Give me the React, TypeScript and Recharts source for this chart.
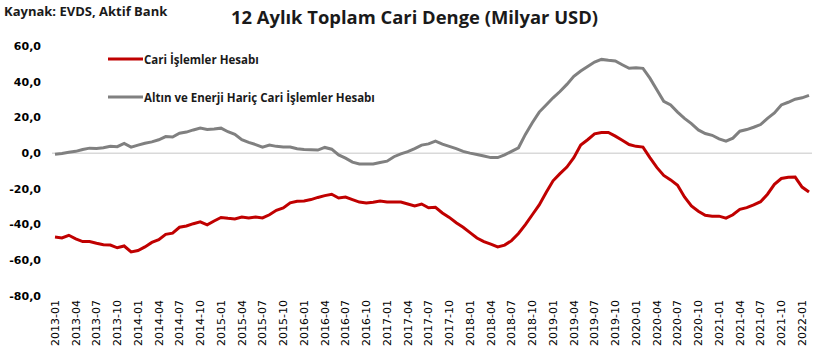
import React from 'react';
import { LineChart, Line, XAxis, YAxis, ReferenceLine, Legend } from 'recharts';

// monthly labels 2013-01 .. 2022-02
const months: string[] = [];
for (let y = 2013; y <= 2022; y++) {
  for (let m = 1; m <= 12; m++) {
    if (y === 2022 && m > 2) break;
    months.push(`${y}-${String(m).padStart(2, '0')}`);
  }
}

const cariIslemler = [
  -47, -47.5, -46, -48, -49.5, -49.5, -50.5, -51.3, -51.5, -53, -52, -55.3,
  -54.5, -52.5, -50, -48.5, -45.5, -44.8, -41.5, -40.8, -39.5, -38.5, -40.2, -38,
  -36, -36.5, -36.9, -35.8, -36.3, -35.8, -36.3, -34.5, -32, -30.7, -27.8, -27,
  -26.8, -26, -24.8, -23.8, -23, -25.1, -24.6, -26, -27.4, -27.9, -27.5, -26.8,
  -27.3, -27.4, -27.4, -28.5, -29.6, -28.5, -30.6, -30.3, -33.5, -36, -39, -41.5,
  -44.5, -47.5, -49.5, -51, -52.5, -51.5, -49, -45, -40, -34.5, -29, -22,
  -15.5, -11.5, -7.8, -2.5, 4.5, 7.5, 10.8, 11.5, 11.6, 9.5, 7.2, 4.8,
  3.8, 3.4, -2.5, -8, -12.5, -15, -18, -24.5, -29.5, -32.5, -34.8, -35.3,
  -35.3, -36.4, -34.5, -31.5, -30.5, -29, -27.2, -23, -17.5, -14.2, -13.5, -13.4,
  -19, -21.8,
];

const altinEnerjiHaric = [
  -0.6, -0.2, 0.5, 1, 2, 2.8, 2.6, 3, 3.9, 3.6, 5.4, 3.4,
  4.5, 5.5, 6.3, 7.5, 9.3, 9, 11.2, 11.8, 13, 14, 13.3, 13.5,
  14, 12, 10.5, 7.5, 6, 4.8, 3.4, 4.5, 3.8, 3.5, 3.4, 2.5,
  2, 1.9, 1.7, 3.2, 2.2, -1, -2.8, -5, -6.1, -6.1, -6.1, -5.2,
  -4.5, -2, -0.4, 0.8, 2.5, 4.5, 5.2, 6.7, 5, 3.8, 2.5, 1,
  0, -0.8, -1.6, -2.5, -2.5, -1, 1, 3, 10.5, 17, 23, 27,
  31, 34.5, 38.5, 43, 46, 48.5, 51, 52.5, 52, 51.6, 49.5, 47.5,
  47.8, 47.5, 42, 35.5, 29, 27, 23, 19.5, 16.5, 13, 11, 10,
  8, 6.7, 8.4, 12.3, 13.2, 14.5, 16, 19.5, 22.5, 27, 28.5, 30.2,
  31, 32.4,
];

const yTicks = [-80, -60, -40, -20, 0, 20, 40, 60];
const seriesOrder = ['cari', 'haric'];

const data = months.map((month, i) => ({
  month,
  cari: cariIslemler[i],
  haric: altinEnerjiHaric[i],
}));

const fmt = (v: number) => v.toFixed(1).replace('.', ',');

const XTick = ({ x, y, payload }: any) => (
  <text
    x={x}
    y={y}
    transform={`rotate(-90, ${x}, ${y})`}
    textAnchor="end"
    dy="0.35em"
    fontFamily="DejaVu Sans"
    fontSize={11}
    fill="#000"
  >
    {payload.value}
  </text>
);

const LegendBox = ({ payload }: any) => {
  const items = [...(payload || [])].sort(
    (a: any, b: any) => seriesOrder.indexOf(a.dataKey) - seriesOrder.indexOf(b.dataKey)
  );
  return (
    <div style={{ fontFamily: 'Open Sans', fontWeight: 700, fontSize: 11.5, color: '#1a1a1a' }}>
      {items.map((p: any, i: number) => (
        <div key={p.value} style={{ display: 'flex', alignItems: 'center', height: 14, marginBottom: i === 0 ? 24 : 0 }}>
          <svg width={35} height={6} style={{ marginRight: 1 }}>
            <line x1={0} y1={3} x2={35} y2={3} stroke={p.color} strokeWidth={3} />
          </svg>
          <span>{p.value}</span>
        </div>
      ))}
    </div>
  );
};

export default function App() {
  return (
    <div style={{ position: 'absolute', left: 0, top: 0, width: 829, height: 362, background: '#fff' }}>
      <div style={{ position: 'absolute', left: 4, top: 2, fontFamily: 'Open Sans', fontWeight: 700, fontSize: 13, color: '#1a1a1a' }}>
        Kaynak: EVDS, Aktif Bank
      </div>
      <div style={{ position: 'absolute', left: 0, width: 829, top: 4, textAlign: 'center', fontFamily: 'Open Sans', fontWeight: 700, fontSize: 18.4, color: '#1a1a1a' }}>
        12 Aylık Toplam Cari Denge (Milyar USD)
      </div>
      <LineChart width={829} height={362} data={data} margin={{ top: 46, right: 17, bottom: 0, left: 8 }}>
        <XAxis
          dataKey="month"
          interval={2}
          tick={<XTick />}
          tickLine={false}
          axisLine={false}
          tickSize={0}
          tickMargin={4}
          height={66}
          padding={{ left: 3, right: 3 }}
        />
        <YAxis
          domain={[-80, 60]}
          ticks={yTicks}
          tickFormatter={fmt}
          tickLine={false}
          axisLine={false}
          tickMargin={5}
          width={44}
          tick={{ fontFamily: 'DejaVu Sans', fontWeight: 700, fontSize: 11, fill: '#000' }}
        />
        <ReferenceLine y={0} stroke="#d9d9d9" strokeWidth={1.5} />
        <Legend
          verticalAlign="middle"
          align="center"
          layout="vertical"
          content={<LegendBox />}
          wrapperStyle={{ position: 'absolute', top: 52, left: 108, width: 340 }}
        />
        <Line
          type="linear"
          dataKey="cari"
          name="Cari İşlemler Hesabı"
          stroke="#c00000"
          strokeWidth={3}
          dot={false}
          isAnimationActive={false}
        />
        <Line
          type="linear"
          dataKey="haric"
          name="Altın ve Enerji Hariç Cari İşlemler Hesabı"
          stroke="#808080"
          strokeWidth={3}
          dot={false}
          isAnimationActive={false}
        />
      </LineChart>
    </div>
  );
}
